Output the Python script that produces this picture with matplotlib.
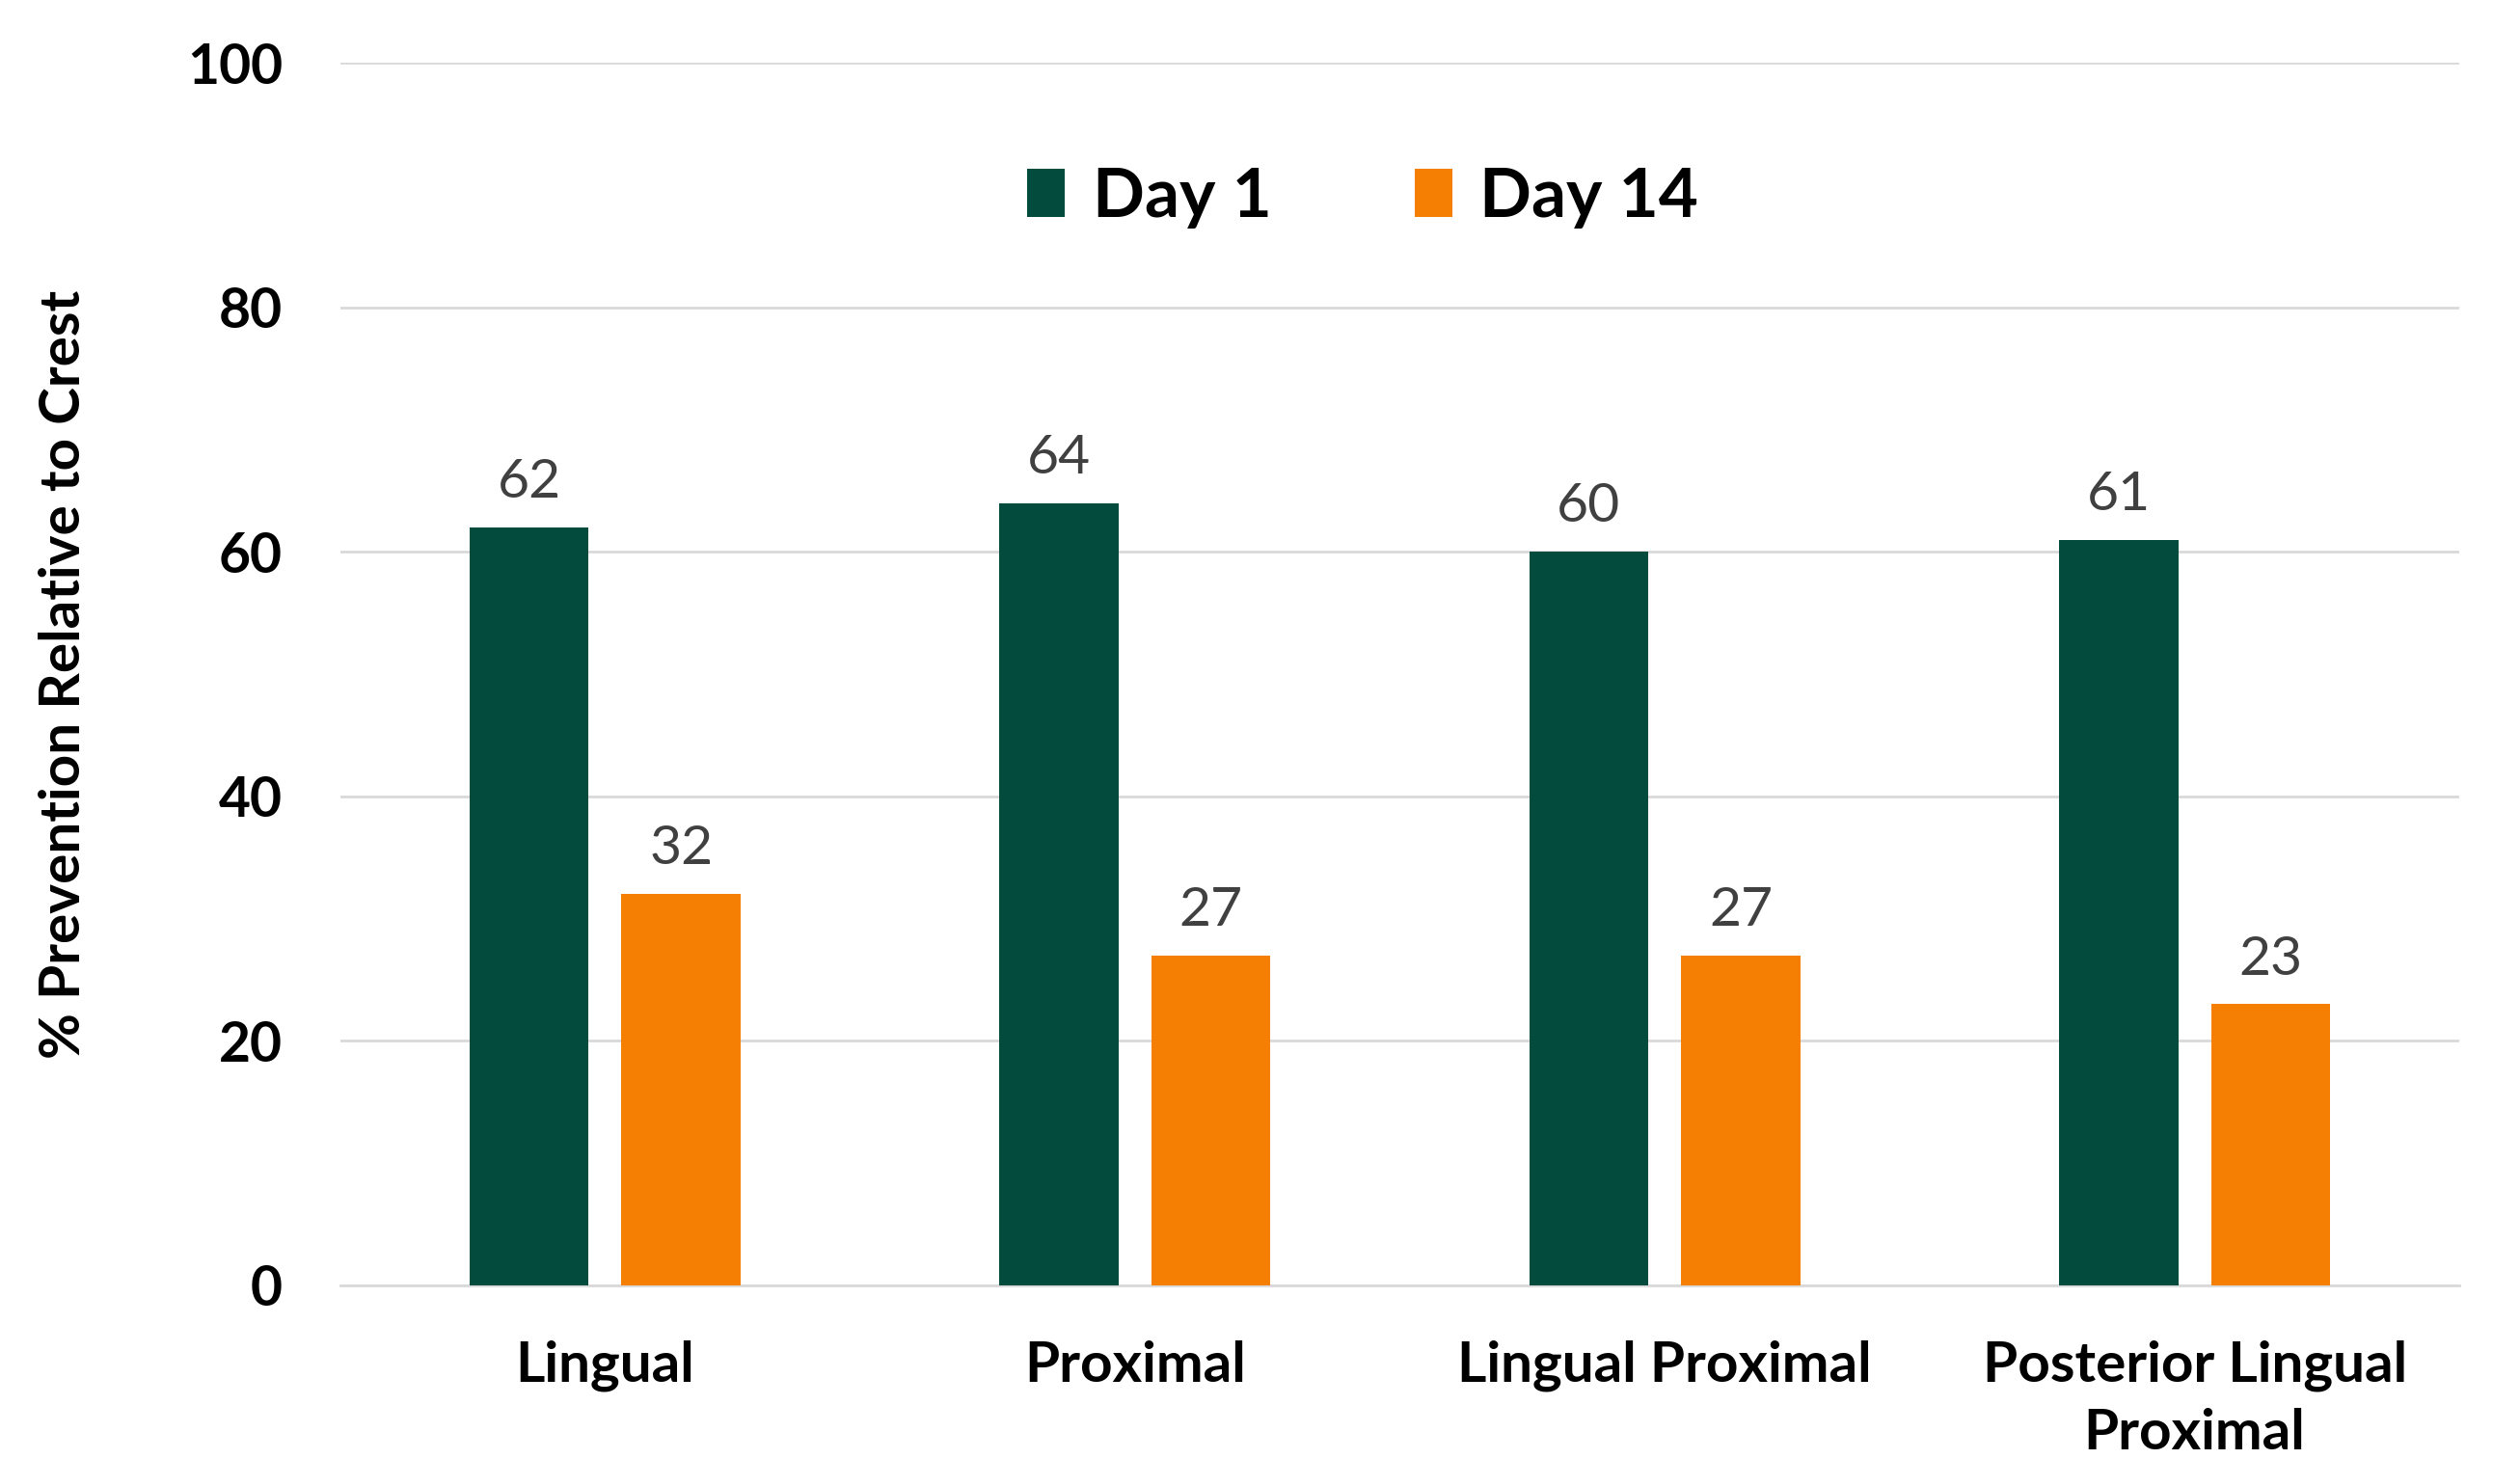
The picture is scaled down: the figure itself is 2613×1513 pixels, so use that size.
import matplotlib
matplotlib.use('Agg')
import matplotlib.pyplot as plt
import numpy as np

plt.rcParams['font.family'] = ['Lato', 'DejaVu Sans']

categories = ['Lingual', 'Proximal', 'Lingual Proximal', 'Posterior Lingual\nProximal']
day1 = [62, 64, 60, 61]
day14 = [32, 27, 27, 23]
series_names = ['Day 1', 'Day 14']
yticks = [0, 20, 40, 60, 80, 100]

green = '#034B3C'
orange = '#F47F03'

fig = plt.figure(figsize=(26.13, 15.13), dpi=100)
ax = fig.add_axes([0.135, 0.119, 0.841, 0.838])

x = np.arange(len(categories))
w = 0.225
off = 0.1434
b1 = ax.bar(x - off, day1, w, color=green, label=series_names[0], zorder=3)
b2 = ax.bar(x + off, day14, w, color=orange, label=series_names[1], zorder=3)

for bars in (b1, b2):
    for r in bars:
        ax.annotate(str(int(r.get_height())), (r.get_x() + r.get_width() / 2, r.get_height()),
                    xytext=(0, 15), textcoords='offset points', ha='center', va='bottom',
                    fontsize=41, color='#404040')

ax.set_xlim(-0.5, 3.5)
ax.set_ylim(0, 100)
ax.set_yticks(yticks)
ax.yaxis.grid(True, color='#d9d9d9', linewidth=2, zorder=0)
for s in ['top', 'right', 'left']:
    ax.spines[s].set_visible(False)
ax.spines['bottom'].set_color('#d9d9d9')
ax.spines['bottom'].set_linewidth(2)
ax.tick_params(axis='both', length=0)
ax.tick_params(axis='y', pad=43)
ax.tick_params(axis='x', pad=41)
ax.set_xticks(x)
ax.set_xticklabels(categories, fontsize=42, fontweight='bold', linespacing=1.38, va='top')
for t in ax.get_yticklabels():
    t.set_fontsize(41)
    t.set_fontweight('bold')

ax.set_ylabel('% Prevention Relative to Crest', fontsize=42, fontweight='bold')
ax.yaxis.set_label_coords(-0.118, 0.5)

leg = ax.legend(loc='center', bbox_to_anchor=(0.4826, 0.89), ncol=2, frameon=False,
                prop={'size': 51, 'weight': 'bold'}, handlelength=0.55, handleheight=0.7,
                columnspacing=2.1, handletextpad=0.4)

fig.savefig('out.png', dpi=100)
